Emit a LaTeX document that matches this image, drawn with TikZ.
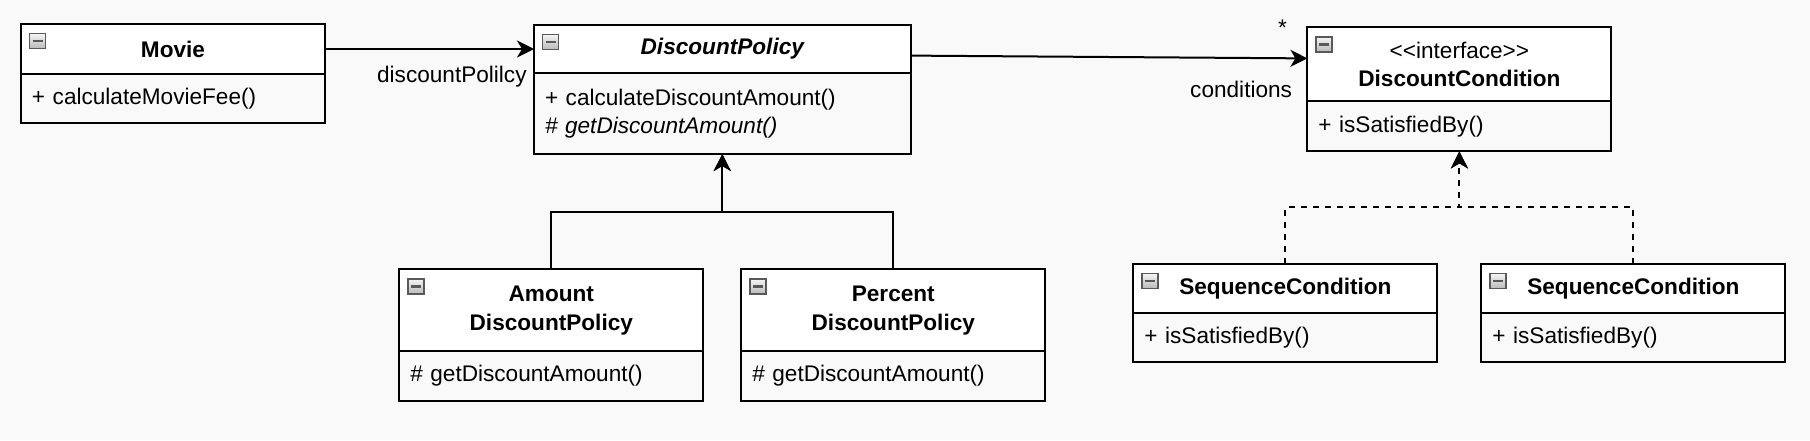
\documentclass[tikz,border=0pt]{standalone}
\usepackage{fontspec}
\setmainfont{Liberation Sans}
\usetikzlibrary{arrows.meta, positioning}
\definecolor{pagebg}{HTML}{F9F9F9}
\newcommand{\umlfont}{\fontsize{11.3pt}{14.3pt}\selectfont}
\tikzset{
    classhead/.style={
        rectangle,
        draw=black,
        line width=1pt,
        fill=white,
        minimum width=152pt,
        minimum height=25pt,
        inner sep=0pt,
        outer sep=0pt,
        align=center,
        font=\umlfont\bfseries
    },
    classbody/.style={
        rectangle,
        draw=black,
        line width=1pt,
        text width=141pt,
        minimum height=24.5pt,
        inner xsep=5.5pt,
        inner ysep=0pt,
        outer sep=0pt,
        align=left,
        font=\umlfont
    },
    collapse/.style={
        rectangle,
        draw=gray!70!black,
        line width=0.6pt,
        top color=gray!8,
        bottom color=gray!55,
        minimum width=8pt,
        minimum height=7.5pt,
        inner sep=0pt,
        path picture={
            \draw[line width=1.2pt] ([xshift=1.5pt]path picture bounding box.west)
                -- ([xshift=-1.5pt]path picture bounding box.east);
        }
    },
    assoc/.style={
        -{Stealth[length=8.5pt, width=8.5pt, inset=2.5pt]},
        line width=1pt
    },
    inherit/.style={
        -{Stealth[length=8.5pt, width=8.5pt, inset=2.5pt]},
        line width=1pt
    },
    realize/.style={
        -{Stealth[length=8.5pt, width=8.5pt, inset=2.5pt]},
        line width=1pt,
        dash pattern=on 3pt off 3pt
    },
    rolelabel/.style={
        inner sep=0pt,
        font=\umlfont
    }
}

\begin{document}
\begin{tikzpicture}

    % Page
    \fill[pagebg] (-86.5pt,24.5pt) rectangle (818.5pt,-195.5pt);

    % Movie
    \node[classhead] (movie) at (0,0) {Movie};
    \node[classbody, minimum height=24.35pt, below=0pt of movie] (movieb) {+ calculateMovieFee()};
    \node[collapse, below right=4.5pt and 4pt of movie.north west] (moviex) {};

    % DiscountPolicy
    \node[classhead, font=\umlfont\bfseries\itshape, minimum width=188.3pt, minimum height=24.35pt, right=104.5pt of movie] (dp) {DiscountPolicy};
    \node[classbody, text width=177.3pt, minimum height=40.3pt, below=0pt of dp] (dpb) {+ calculateDiscountAmount()\\\textit{\# getDiscountAmount()}};
    \node[collapse, below right=4.5pt and 4pt of dp.north west] (dpx) {};

    % DiscountCondition
    \node[classhead, minimum height=37pt, right=198.4pt of dp, yshift=-7.7pt] (dc) {{\mdseries <\kern0pt<interface>\kern0pt>}\\DiscountCondition};
    \node[classbody, minimum height=25pt, below=0pt of dc] (dcb) {+ isSatisfiedBy()};
    \node[collapse, below right=4.5pt and 4pt of dc.north west] (dcx) {};

    % AmountDiscountPolicy
    \node[classhead, minimum height=41pt, below=57.7pt of dpb, xshift=-85.5pt] (adp) {Amount\\DiscountPolicy};
    \node[classbody, minimum height=24.65pt, below=0pt of adp] (adpb) {\# getDiscountAmount()};
    \node[collapse, below right=4.5pt and 4pt of adp.north west] (adpx) {};

    % PercentDiscountPolicy
    \node[classhead, minimum height=41pt, below=57.7pt of dpb, xshift=85.5pt] (pdp) {Percent\\DiscountPolicy};
    \node[classbody, minimum height=24.65pt, below=0pt of pdp] (pdpb) {\# getDiscountAmount()};
    \node[collapse, below right=4.5pt and 4pt of pdp.north west] (pdpx) {};

    % SequenceCondition x2
    \node[classhead, minimum height=24.7pt, below=56.3pt of dcb, xshift=-87pt] (seq1) {SequenceCondition};
    \node[classbody, below=0pt of seq1] (seq1b) {+ isSatisfiedBy()};
    \node[collapse, below right=4.5pt and 4pt of seq1.north west] (seq1x) {};

    \node[classhead, minimum height=24.7pt, below=56.3pt of dcb, xshift=87pt] (seq2) {SequenceCondition};
    \node[classbody, below=0pt of seq2] (seq2b) {+ isSatisfiedBy()};
    \node[collapse, below right=4.5pt and 4pt of seq2.north west] (seq2x) {};

    % Associations
    \draw[assoc] (movie) -- (dp);
    \node[rolelabel, left=3.5pt of dp.west, yshift=-14pt] (dprole) {discountPolilcy};

    \draw[assoc] ([yshift=-3.3pt]dp.east) -- ([yshift=3pt]dc.west);
    \node[rolelabel, left=7.5pt of dc.west, yshift=-12.3pt] (dcrole) {conditions};
    \node[rolelabel, left=10pt of dc.west, yshift=18.5pt] (dcmult) {*};

    % Inheritance
    \coordinate[below=29pt of dpb] (dpjoin);
    \draw[inherit] (adp.north) |- (dpjoin) -- (dpb.south);
    \draw[inherit] (pdp.north) |- (dpjoin) -- (dpb.south);

    % Realization
    \coordinate[below=28pt of dcb] (dcjoin);
    \draw[realize] (seq1.north) |- (dcjoin) -- (dcb.south);
    \draw[realize] (seq2.north) |- (dcjoin) -- (dcb.south);

\end{tikzpicture}
\end{document}
